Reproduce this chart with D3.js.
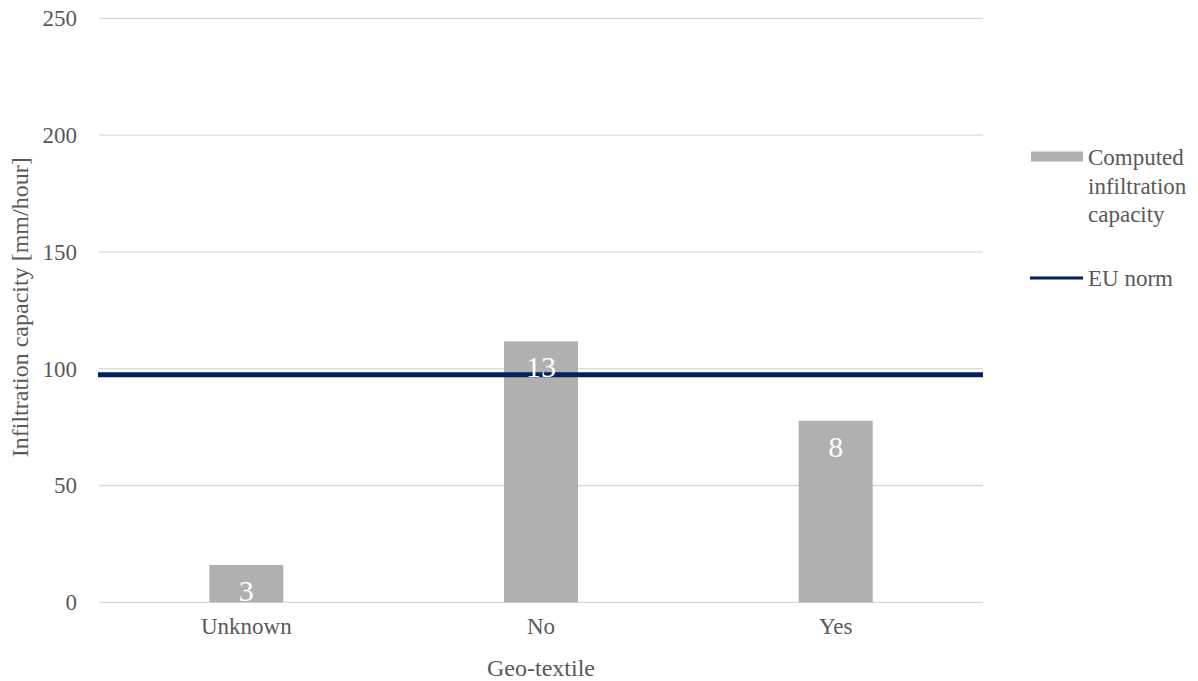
<!DOCTYPE html>
<html>
<head>
<meta charset="utf-8">
<script src="https://cdn.jsdelivr.net/npm/d3@7"></script>
<style>
  html, body { margin: 0; padding: 0; background: #fff; }
  svg text { font-family: "Liberation Serif", "Times New Roman", Times, "DejaVu Serif", serif; }
</style>
</head>
<body>
<svg id="chart" width="1198" height="681"></svg>
<script>
// Infiltration capacity per geo-textile group, with the count of measurements per group
const categories = ["Unknown", "No", "Yes"];
const capacity = [16, 111.7, 77.7];
const counts = [3, 13, 8];
const euNorm = 97.4;
const yTicks = [0, 50, 100, 150, 200, 250];

const svg = d3.select("#chart");
const margin = { left: 99, right: 215, top: 18.3, bottom: 78.7 };
const W = 1198, H = 681;
const serif = '"Liberation Serif", "Times New Roman", Times, "DejaVu Serif", serif';

const x = d3.scaleBand().domain(categories)
  .range([margin.left, W - margin.right]).paddingInner(0.749).paddingOuter(0.3745);
const y = d3.scaleLinear().domain([0, 250]).range([H - margin.bottom, margin.top]);

// horizontal gridlines
svg.append("g").selectAll("line").data(yTicks).join("line")
  .attr("x1", margin.left).attr("x2", W - margin.right)
  .attr("y1", d => y(d)).attr("y2", d => y(d))
  .attr("stroke", "#d9d9d9").attr("stroke-width", 1.3);

// y axis tick labels
const yAxis = d3.axisLeft(y).tickValues(yTicks).tickSize(0).tickPadding(22);
const gy = svg.append("g").attr("transform", `translate(${margin.left},0)`).call(yAxis)
  .attr("font-family", serif);
gy.select(".domain").remove();
gy.selectAll("text").attr("font-size", 23).attr("fill", "#595959");

// x axis labels
const xAxis = d3.axisBottom(x).tickSize(0).tickPadding(15);
const gx = svg.append("g").attr("transform", `translate(0,${y(0)})`).call(xAxis)
  .attr("font-family", serif);
gx.select(".domain").remove();
gx.selectAll("text").attr("font-size", 23).attr("fill", "#595959");

// bars
svg.append("g").selectAll("rect").data(categories).join("rect")
  .attr("x", d => x(d)).attr("width", x.bandwidth())
  .attr("y", (d, i) => y(capacity[i]))
  .attr("height", (d, i) => y(0) - y(capacity[i]))
  .attr("fill", "#b0b0b0");

// EU norm reference line
svg.append("line")
  .attr("x1", margin.left - 1).attr("x2", W - margin.right)
  .attr("y1", y(euNorm)).attr("y2", y(euNorm))
  .attr("stroke", "#002060").attr("stroke-width", 5);

// count labels inside bars
svg.append("g").selectAll("text").data(categories).join("text")
  .attr("x", d => x(d) + x.bandwidth() / 2)
  .attr("y", (d, i) => y(capacity[i]) + 36)
  .attr("text-anchor", "middle")
  .attr("font-size", 30).attr("fill", "#ffffff")
  .text((d, i) => counts[i]);

// axis titles
svg.append("text")
  .attr("x", (margin.left + W - margin.right) / 2).attr("y", 676)
  .attr("text-anchor", "middle").attr("font-size", 24).attr("fill", "#595959")
  .text("Geo-textile");
svg.append("text")
  .attr("transform", `translate(28,${(y(0) + y(250)) / 2 - 3}) rotate(-90)`)
  .attr("text-anchor", "middle").attr("font-size", 24).attr("fill", "#595959")
  .text("Infiltration capacity [mm/hour]");

// legend
const lg = svg.append("g");
lg.append("rect").attr("x", 1031).attr("y", 151.5).attr("width", 52).attr("height", 10).attr("fill", "#b0b0b0");
lg.append("text").attr("font-size", 23).attr("fill", "#595959")
  .selectAll("tspan").data(["Computed", "infiltration", "capacity"]).join("tspan")
  .attr("x", 1088).attr("y", (d, i) => 165 + i * 28.5).text(d => d);
lg.append("line").attr("x1", 1030).attr("x2", 1083).attr("y1", 278).attr("y2", 278)
  .attr("stroke", "#002060").attr("stroke-width", 3);
lg.append("text").attr("x", 1088).attr("y", 286).attr("font-size", 23).attr("fill", "#595959").text("EU norm");
</script>
</body>
</html>
